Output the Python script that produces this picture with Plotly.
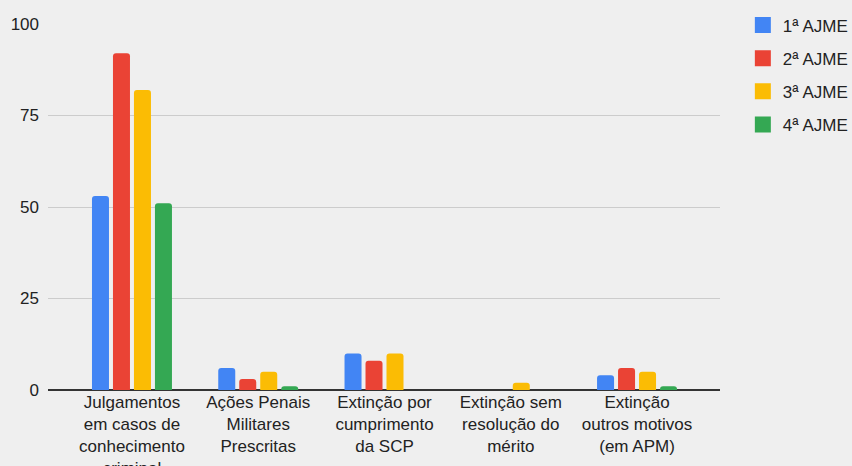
import plotly.graph_objects as go

categories = [
    "Julgamentos<br>em casos de<br>conhecimento<br>criminal",
    "Ações Penais<br>Militares<br>Prescritas",
    "Extinção por<br>cumprimento<br>da SCP",
    "Extinção sem<br>resolução do<br>mérito",
    "Extinção<br>outros motivos<br>(em APM)",
]
series_names = ["1ª AJME", "2ª AJME", "3ª AJME", "4ª AJME"]
ajme1 = [53, 6, 10, 0, 4]
ajme2 = [92, 3, 8, 0, 6]
ajme3 = [82, 5, 10, 2, 5]
ajme4 = [51, 1, 0, 0, 1]
y_ticks = [0, 25, 50, 75, 100]

colors = ["#4285f4", "#ea4335", "#fbbc04", "#34a853"]
series_values = [ajme1, ajme2, ajme3, ajme4]

FONT = "Arial, Liberation Sans, sans-serif"
TXT = "#222222"
BG = "#efefef"

fig = go.Figure()
xs = list(range(len(categories)))
for name, vals, col in zip(series_names, series_values, colors):
    fig.add_trace(go.Bar(
        x=xs, y=vals, name=name, showlegend=False,
        marker=dict(color=col, line=dict(width=0), cornerradius=3),
        hoverinfo="skip",
    ))
for i, (name, col) in enumerate(zip(series_names, colors)):
    fig.add_trace(go.Scatter(
        x=[None], y=[None], name=name, mode="markers",
        legendgroup="g%d" % i,
        marker=dict(symbol="square", size=16, color=col),
    ))

fig.update_layout(
    width=852, height=466,
    paper_bgcolor=BG, plot_bgcolor=BG,
    margin=dict(l=48, r=132, t=24, b=76, autoexpand=False),
    barmode="group", bargap=0.335, bargroupgap=0.19,
    font=dict(family=FONT, size=17, color=TXT),
    legend=dict(
        x=1.034, xanchor="left", y=1.045, yanchor="top",
        font=dict(family=FONT, size=17, color=TXT),
        bgcolor="rgba(0,0,0,0)", tracegroupgap=8,
        traceorder="grouped", itemclick=False,
    ),
    showlegend=True,
)
fig.update_xaxes(
    tickmode="array", tickvals=xs, ticktext=categories,
    range=[-0.665, 4.657], showgrid=False, zeroline=False,
    showline=False, ticks="", tickfont=dict(size=17, color=TXT),
    ticklabelstandoff=0,
    fixedrange=True, automargin=False,
)
fig.update_yaxes(
    range=[0, 100], tickmode="array", tickvals=y_ticks,
    showgrid=True, gridcolor="#cccccc", gridwidth=1,
    zeroline=True, zerolinecolor="#333333", zerolinewidth=1.5,
    showline=False, ticks="", ticklabelstandoff=8,
    tickfont=dict(size=17, color=TXT), fixedrange=True, automargin=False,
)

fig.write_html(
    "out.html",
    config={"displayModeBar": False},
    post_script="document.body.style.margin='0';document.body.style.background='#efefef';",
)
